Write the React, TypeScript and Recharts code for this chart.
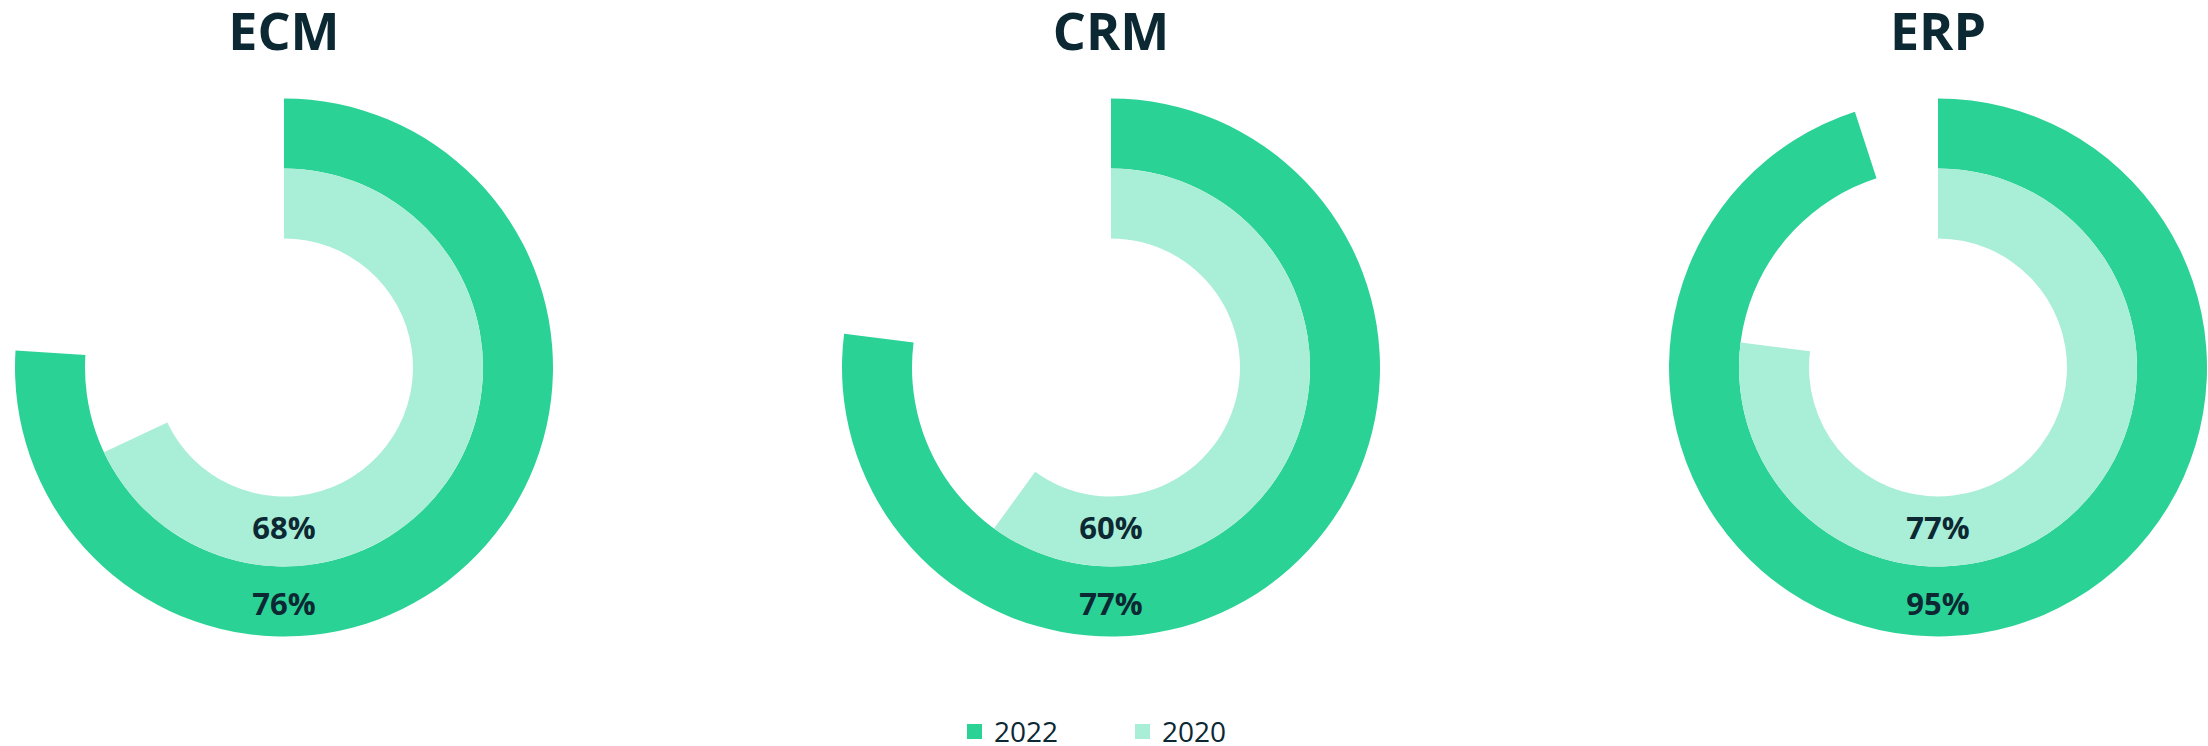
import React from 'react';
import { PieChart, Pie, Cell } from 'recharts';

const categories = ['ECM', 'CRM', 'ERP'];
const values2022 = [76, 77, 95];
const values2020 = [68, 60, 77];
const seriesNames = ['2022', '2020'];

const COLOR_2022 = '#2AD295';
const COLOR_2020 = '#A9EED6';
const TEXT = '#0B2833';
const FONT = '"Open Sans", "Noto Sans", sans-serif';

const W = 2208;
const H = 746;
const CX0 = 284;
const DX = 827;
const CY = 367.5;

const makeData = (v: number) => [
  { name: 'value', value: v },
  { name: 'rest', value: 100 - v },
];

const makeLabel = (baselineOffset: number) => (props: any) => {
  if (props.index !== 0) return null;
  return (
    <text
      x={props.cx}
      y={props.cy + baselineOffset}
      textAnchor="middle"
      fill={TEXT}
      fontFamily={FONT}
      fontWeight={700}
      fontSize={31}
    >
      {`${props.value}%`}
    </text>
  );
};

export default function App() {
  return (
    <div style={{ position: 'absolute', left: 0, top: 0, width: W, height: H, background: '#fff' }}>
      <PieChart width={W} height={H} margin={{ top: 0, right: 0, bottom: 0, left: 0 }}>
        {categories.map((c, i) => (
          <Pie
            key={`o-${c}`}
            data={makeData(values2022[i])}
            dataKey="value"
            cx={CX0 + i * DX}
            cy={CY}
            innerRadius={199}
            outerRadius={269}
            startAngle={90}
            endAngle={-270}
            stroke="none"
            isAnimationActive={false}
            labelLine={false}
            label={makeLabel(247.5)}
          >
            <Cell fill={COLOR_2022} />
            <Cell fill="transparent" />
          </Pie>
        ))}
        {categories.map((c, i) => (
          <Pie
            key={`i-${c}`}
            data={makeData(values2020[i])}
            dataKey="value"
            cx={CX0 + i * DX}
            cy={CY}
            innerRadius={129}
            outerRadius={199}
            startAngle={90}
            endAngle={-270}
            stroke="none"
            isAnimationActive={false}
            labelLine={false}
            label={makeLabel(171.5)}
          >
            <Cell fill={COLOR_2020} />
            <Cell fill="transparent" />
          </Pie>
        ))}
      </PieChart>
      <svg width={W} height={H} style={{ position: 'absolute', left: 0, top: 0, pointerEvents: 'none' }}>
        {categories.map((c, i) => (
          <text
            key={c}
            x={CX0 + i * DX}
            y={49.5}
            textAnchor="middle"
            fill={TEXT}
            fontFamily={FONT}
            fontWeight={700}
            fontSize={52}
          >
            {c}
          </text>
        ))}
        {seriesNames.map((s, i) => (
          <g key={s}>
            <rect x={967 + i * 168} y={724} width={15} height={15} fill={i === 0 ? COLOR_2022 : COLOR_2020} />
            <text x={994 + i * 168} y={742} fill={TEXT} fontFamily={FONT} fontSize={28}>
              {s}
            </text>
          </g>
        ))}
      </svg>
    </div>
  );
}
